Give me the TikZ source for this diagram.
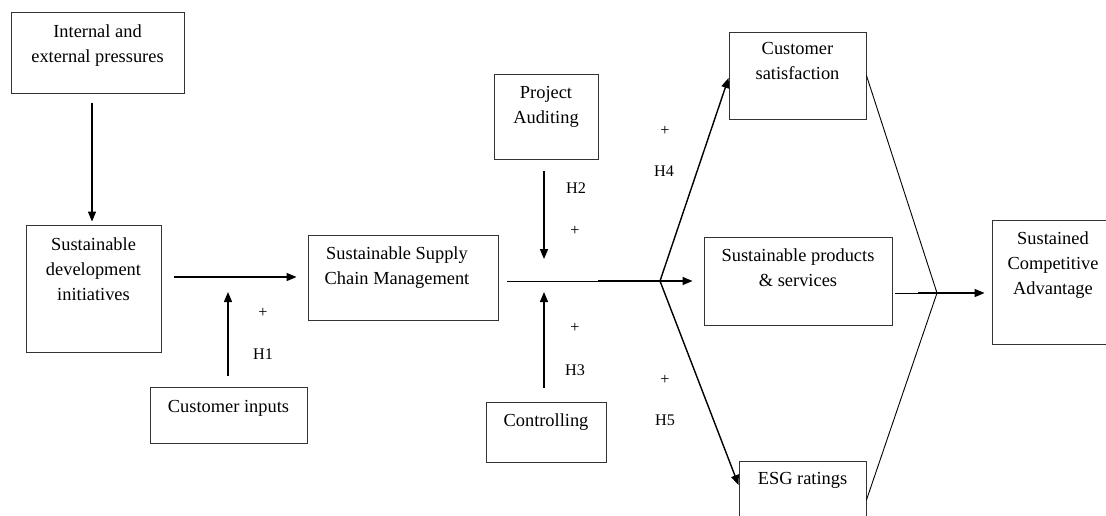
\documentclass[tikz,border=0pt]{standalone}
\usepackage{fontspec}
\setmainfont{Liberation Serif}
\usetikzlibrary{arrows.meta,calc}
\begin{document}
\begin{tikzpicture}[x=1pt,y=-1pt,
  box/.style={draw=black!80, line width=0.9pt, rectangle, inner sep=0pt},
  txt/.style={anchor=north, align=center, inner sep=0pt, font=\fontsize{18.4}{25}\selectfont, text=black},
  lbl/.style={inner sep=0pt, font=\fontsize{16.2}{19}\selectfont, text=black},
  arr/.style={line width=1.4pt, -{Triangle[width=8pt,length=10pt]}},
  thinline/.style={line width=0.9pt}]
\clip (0,0) rectangle (1106,515);
\fill[white] (0,0) rectangle (1106,515);
% boxes
\node[box, minimum width=173pt, minimum height=81pt] (pres) at (97.5,52.5) {};
\node[box, minimum width=135pt, minimum height=127pt] (dev) at (93.5,288.5) {};
\node[box, minimum width=190pt, minimum height=85pt] (sscm) at (403,277.5) {};
\node[box, minimum width=157pt, minimum height=56pt] (cin) at (228.5,415) {};
\node[box, minimum width=104pt, minimum height=85pt] (aud) at (546,116.5) {};
\node[box, minimum width=120pt, minimum height=60pt] (ctrl) at (546,432) {};
\node[box, minimum width=137pt, minimum height=87pt] (sat) at (797.5,75.5) {};
\node[box, minimum width=188pt, minimum height=88pt] (prod) at (798,281) {};
\node[box, minimum width=127pt, minimum height=68pt] (esg) at (802.5,495) {};
\node[box, minimum width=122pt, minimum height=124pt] (sus) at (1053,282) {};
% texts
\node[txt] (pres-t) at ([yshift=-13pt]pres.north) {Internal and\\external pressures};
\node[txt] (dev-t) at ([yshift=-13pt]dev.north) {Sustainable\\development\\initiatives};
\node[txt] (sscm-t) at ([xshift=-6pt,yshift=-12pt]sscm.north) {Sustainable Supply\\Chain Management};
\node[txt] (cin-t) at ([yshift=-14pt]cin.north) {Customer inputs};
\node[txt] (aud-t) at ([yshift=-13pt]aud.north) {Project\\Auditing};
\node[txt] (ctrl-t) at ([yshift=-12pt]ctrl.north) {Controlling};
\node[txt] (sat-t) at ([yshift=-11pt]sat.north) {Customer\\satisfaction};
\node[txt] (prod-t) at ([yshift=-12pt]prod.north) {Sustainable products\\\& services};
\node[txt] (esg-t) at ([yshift=-12pt]esg.north) {ESG ratings};
\node[txt] (sus-t) at ([yshift=-12pt]sus.north) {Sustained\\Competitive\\Advantage};
% coordinates
\coordinate (a1) at (92,0);
\coordinate (r1) at (0,277);
\coordinate (h1) at (228,277);
\coordinate (j) at (660,281);
\coordinate (k) at (598,281);
\coordinate (h2) at (544,281);
\coordinate (j2) at (937,293);
\coordinate (k2) at (918,293);
% connectors
\draw[arr, shorten <=10pt, shorten >=3pt] (pres.south -| a1) -- (dev.north -| a1);
\draw[arr, shorten <=13pt, shorten >=11pt] (dev.east |- r1) -- (sscm.west |- r1);
\draw[arr, shorten <=11pt, shorten >=15pt] (cin.north -| h1) -- (h1);
\draw[thinline, shorten <=9pt] (sscm.east |- j) -- (k);
\draw[arr, shorten >=11pt] (k) -- (j) -- (prod.west);
\draw[arr, shorten <=12pt, shorten >=22pt] (aud.south -| h2) -- (h2);
\draw[arr, shorten <=14pt, shorten >=11pt] (ctrl.north -| h2) -- (h2);
\draw[arr] (j) -- (sat.west |- 0,78);
\draw[arr] (j) -- (esg.west |- 0,485);
\draw[thinline] (sat.east) -- (j2) -- (esg.east |- 0,500);
\draw[thinline, shorten <=3pt] (prod.east |- j2) -- (j2);
\draw[arr, shorten >=7pt] (k2) -- (sus.west |- j2);
% labels
\node[lbl] (p1) at (263,313) {+};
\node[lbl] (l1) at (263,354) {H1};
\node[lbl] (l2) at (576,188) {H2};
\node[lbl] (p2) at (575,231) {+};
\node[lbl] (p3) at (575,328) {+};
\node[lbl] (l3) at (575,370) {H3};
\node[lbl] (p4) at (665,131) {+};
\node[lbl] (l4) at (664,171) {H4};
\node[lbl] (p5) at (665,380) {+};
\node[lbl] (l5) at (665,420) {H5};
\end{tikzpicture}
\end{document}
